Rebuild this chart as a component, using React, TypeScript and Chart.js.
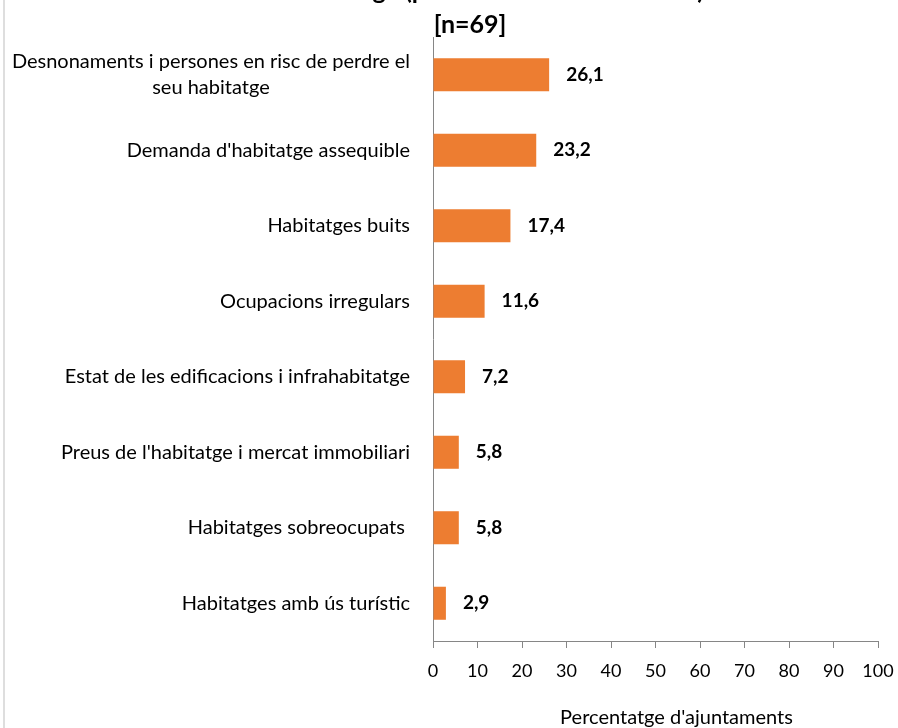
import React, { useEffect, useRef } from 'react';
import { Chart, registerables } from 'chart.js';

Chart.register(...registerables);

const titleHead = "Problemes d'habitatge ";
const titleTail = '(per ordre de la rellevància)';
const titleSub = '[n=69]';
const categories: (string | string[])[] = [
  ['Desnonaments i persones en risc de perdre el', 'seu habitatge'],
  "Demanda d'habitatge assequible",
  'Habitatges buits',
  'Ocupacions irregulars',
  'Estat de les edificacions i infrahabitatge',
  "Preus de l'habitatge i mercat immobiliari",
  'Habitatges sobreocupats ',
  'Habitatges amb ús turístic',
];
const values = [26.1, 23.2, 17.4, 11.6, 7.2, 5.8, 5.8, 2.9];
const xMin = 0;
const xMax = 100;
const xStep = 10;
const axisTitle = "Percentatge d'ajuntaments";

const FONT = 'Lato, "Open Sans", sans-serif';
const AXIS_COLOR = '#868686';
const LABEL_SIZE = 20;

const overlay = {
  id: 'overlay',
  afterDraw(chart: any) {
    const ctx = chart.ctx as CanvasRenderingContext2D;
    const xs = chart.scales.x;
    const ys = chart.scales.y;
    ctx.save();
    ctx.fillStyle = '#000';

    // value labels
    const meta = chart.getDatasetMeta(0);
    ctx.font = `bold 19px ${FONT}`;
    ctx.textAlign = 'left';
    ctx.textBaseline = 'middle';
    meta.data.forEach((bar: any, i: number) => {
      ctx.fillText(values[i].toFixed(1).replace('.', ','), bar.x + 17, bar.y);
    });

    // first (two-line) category label, lines centred on each other
    const lab = categories[0] as string[];
    ctx.font = `${LABEL_SIZE}px ${FONT}`;
    const w = Math.max(...lab.map((s) => ctx.measureText(s).width));
    const right = ys.right - 23;
    const cx = right - w / 2;
    const cy = ys.getPixelForTick(0);
    ctx.textAlign = 'center';
    lab.forEach((s, j) => ctx.fillText(s, cx, cy + (j - (lab.length - 1) / 2) * 26));

    // x axis title
    ctx.font = `20px ${FONT}`;
    ctx.textBaseline = 'alphabetic';
    ctx.fillText(axisTitle, xs.getPixelForValue((xMin + xMax) / 2) + 21, 724);

    // chart title (first line cut off at the top)
    ctx.font = `bold 25px ${FONT}`;
    ctx.textAlign = 'left';
    const headW = ctx.measureText(titleHead).width;
    ctx.fillText(titleHead + titleTail, 405 - headW, -1);
    ctx.textAlign = 'center';
    ctx.fillText(titleSub, 470, 33);
    ctx.restore();
  },
};

export default function App() {
  const ref = useRef<HTMLCanvasElement | null>(null);
  useEffect(() => {
    if (!ref.current) return;
    const chart = new Chart(ref.current, {
      type: 'bar',
      data: {
        labels: categories,
        datasets: [
          {
            data: values,
            backgroundColor: '#ED7D31',
            borderWidth: 0,
            categoryPercentage: 0.5,
            barPercentage: 0.875,
          },
        ],
      },
      options: {
        indexAxis: 'y',
        animation: false,
        responsive: false,
        devicePixelRatio: 1,
        layout: { padding: { top: 37, right: 20, left: 0, bottom: 0 } },
        plugins: {
          legend: { display: false },
          tooltip: { enabled: false },
          title: { display: false },
        },
        scales: {
          x: {
            type: 'linear',
            min: xMin,
            max: xMax,
            ticks: {
              stepSize: xStep,
              color: '#000',
              padding: 12,
              font: { family: FONT, size: 18 },
              maxRotation: 0,
            },
            grid: {
              drawOnChartArea: false,
              drawTicks: true,
              tickLength: 7,
              color: AXIS_COLOR,
            },
            border: { display: true, color: AXIS_COLOR, width: 1 },
            afterFit: (s: any) => {
              s.height = 87;
              s.paddingLeft = 0;
              s.paddingRight = 0;
            },
          },
          y: {
            type: 'category',
            ticks: {
              color: (c: any) => (c.index === 0 ? 'rgba(0,0,0,0)' : '#000'),
              padding: 23,
              font: { family: FONT, size: LABEL_SIZE },
              autoSkip: false,
            },
            grid: { drawOnChartArea: false, drawTicks: false },
            border: { display: true, color: AXIS_COLOR, width: 1 },
            afterFit: (s: any) => {
              s.width = 433;
              s.paddingTop = 0;
              s.paddingBottom = 0;
            },
          },
        },
      },
      plugins: [overlay],
    });
    return () => chart.destroy();
  }, []);

  return (
    <div style={{ position: 'absolute', left: 0, top: 0, width: 898, height: 728, background: '#fff', overflow: 'hidden' }}>
      <div style={{ position: 'absolute', left: 3, top: 0, width: 2, height: 728, background: '#dedede' }} />
      <canvas ref={ref} width={898} height={728} style={{ position: 'absolute', left: 0, top: 0, width: 898, height: 728 }} />
    </div>
  );
}
